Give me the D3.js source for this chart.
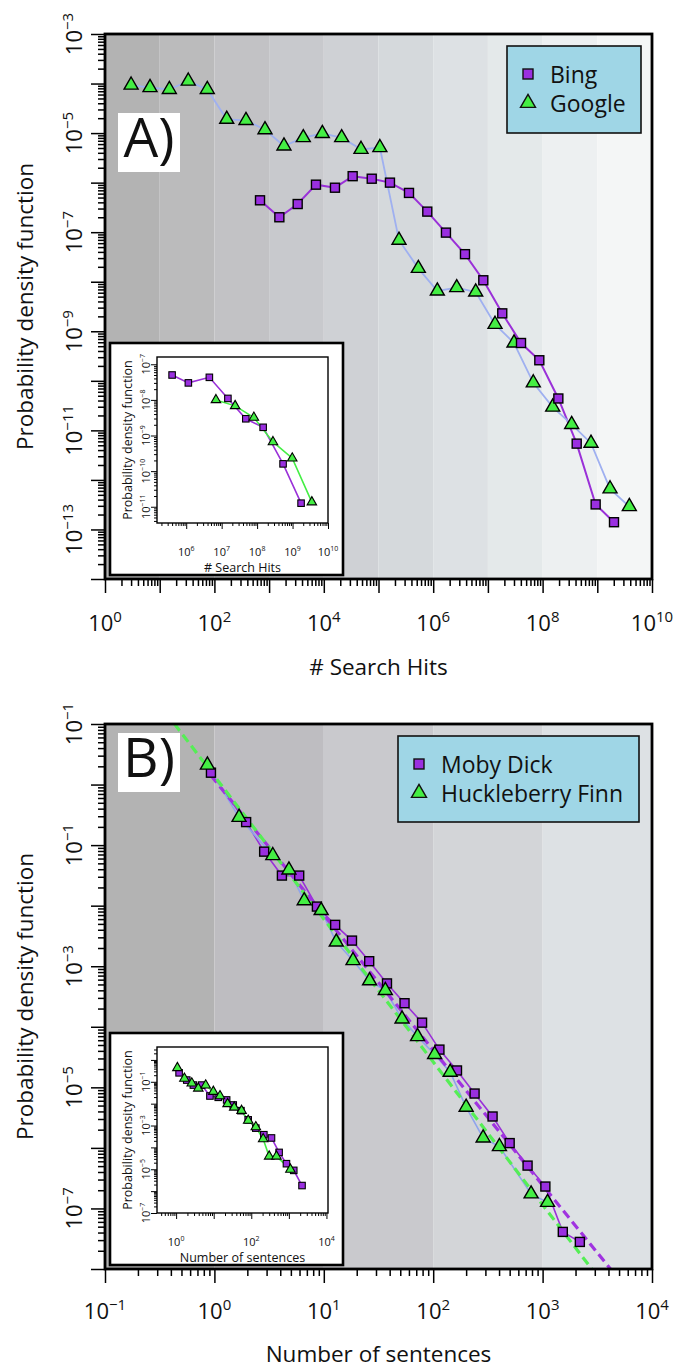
<!DOCTYPE html>
<html>
<head>
<meta charset="utf-8">
<script src="https://cdn.jsdelivr.net/npm/d3@7"></script>
<style>
  body { margin: 0; background: #fff; }
  text { font-family: "Open Sans", sans-serif; fill: #111; }
</style>
</head>
<body>
<svg id="fig" width="675" height="1371"></svg>
<script>
// ---- panel A: search hits ----
const aBingX = [682, 1540, 3330, 7190, 16000, 33700, 75200, 162000, 361000, 780000, 1.71e6, 3.81e6, 8.24e6, 1.83e7, 4.03e7, 8.71e7, 1.94e8, 4.2e8, 9.33e8, 2.02e9]
const aBingY = [4.4e-7, 2.0e-7, 3.7e-7, 9.1e-7, 7.9e-7, 1.35e-6, 1.2e-6, 1.0e-6, 6.2e-7, 2.6e-7, 9.8e-8, 3.6e-8, 1.07e-8, 2.3e-9, 5.8e-10, 2.6e-10, 4.4e-11, 5.4e-12, 3.2e-13, 1.4e-13]
const aGoogleX = [3.0, 6.65, 15.0, 33.3, 74.1, 168, 378, 841, 1870, 4220, 9400, 21200, 47900, 106000, 237000, 535000, 1.19e6, 2.69e6, 5.98e6, 1.35e7, 3.0e7, 6.76e7, 1.53e8, 3.4e8, 7.67e8, 1.71e9, 3.85e9]
const aGoogleY = [9.3e-5, 8.3e-5, 7.6e-5, 1.12e-4, 7.6e-5, 1.9e-5, 1.8e-5, 1.17e-5, 5.5e-6, 8.1e-6, 9.8e-6, 8.1e-6, 4.7e-6, 5.1e-6, 6.9e-8, 1.86e-8, 6.5e-9, 7.6e-9, 6.2e-9, 1.38e-9, 5.8e-10, 9.1e-11, 2.95e-11, 1.32e-11, 5.5e-12, 6.6e-13, 2.9e-13]

// inset A
const aInsetBingX = [4.0e5, 1.15e6, 4.5e6, 1.5e7, 4.8e7, 1.48e8, 5.4e8, 1.74e9]
const aInsetBingY = [5.0e-8, 3.0e-8, 4.3e-8, 1.1e-8, 2.95e-9, 1.7e-9, 1.6e-10, 1.26e-11]
const aInsetGoogleX = [6.9e6, 2.4e7, 8.1e7, 2.8e8, 9.8e8, 3.5e9]
const aInsetGoogleY = [1.0e-8, 6.8e-9, 3.2e-9, 6.6e-10, 2.3e-10, 1.35e-11]

// ---- panel B: sentences ----
const bMobyX = [0.93, 1.95, 2.85, 4.14, 5.96, 8.65, 12.7, 18.1, 26.0, 37.8, 54.7, 79.1, 114, 165, 239, 349, 500, 729, 1060, 1530, 2190]
const bMobyY = [1.57, 0.24, 0.078, 0.0314, 0.0314, 0.00966, 0.00482, 0.00265, 0.00121, 5.2e-4, 2.45e-4, 1.17e-4, 4.2e-5, 1.9e-5, 7.9e-6, 3.3e-6, 1.2e-6, 5.1e-7, 2.3e-7, 4.1e-8, 2.8e-8]
const bHuckX = [0.863, 1.68, 3.42, 4.80, 6.62, 9.46, 13.0, 18.5, 26.2, 36.5, 51.9, 71.9, 103, 143, 200, 286, 403, 785, 1110]
const bHuckY = [2.10, 0.288, 0.0671, 0.0389, 0.0121, 0.00832, 0.00251, 0.00124, 5.75e-4, 3.98e-4, 1.35e-4, 6.9e-5, 3.5e-5, 1.78e-5, 4.7e-6, 1.46e-6, 1.05e-6, 1.74e-7, 1.26e-7]
// power-law fits: log10(y) = b + m*log10(x), drawn from x = from   [Moby, Huck]
const bFitSlope = [-2.231, -2.36]
const bFitIntercept = [0.078, 0.14]
const bFitFrom = [0.93, 0.3]

// inset B
const bInsetMobyX = [1.20, 1.92, 2.88, 4.79, 7.94, 13.2, 22.1, 33.1, 53.0, 82.8, 132, 216, 345, 550, 863, 1350, 2240]
const bInsetMobyY = [0.257, 0.120, 0.0708, 0.0708, 0.0224, 0.0195, 0.0148, 0.0087, 0.00479, 0.00182, 7.6e-4, 3.8e-4, 2.7e-4, 5.9e-5, 1.8e-5, 8.9e-6, 1.8e-6]
const bInsetHuckX = [1.08, 1.66, 2.61, 3.89, 6.12, 9.77, 14.7, 23.4, 35.2, 55.2, 82.8, 132, 207, 299, 468, 1100]
const bInsetHuckY = [0.433, 0.141, 0.0851, 0.0501, 0.0692, 0.0355, 0.0224, 0.00977, 0.00676, 0.00479, 0.0017, 8.5e-4, 2.4e-4, 3.9e-5, 3.9e-5, 9.8e-6]

// tick labels (exponents of 10)
const aXLabels = [0, 2, 4, 6, 8, 10]
const aYLabels = [-3, -5, -7, -9, -11, -13]
const bXLabels = [-1, 0, 1, 2, 3, 4]
const bYLabelPos = [1, -1, -3, -5, -7]
const bYLabelText = ["-1", "-1", "-3", "-5", "-7"]   // top label reads 10^-1 in the original
const aInsetXLabels = [6, 7, 8, 9, 10]
const aInsetYLabels = [-7, -8, -9, -10, -11]
const bInsetXLabels = [0, 2, 4]
const bInsetYLabels = [-1, -3, -5, -7]

const purple = "#9a2fe0", green = "#44ee44"
const bandsA = ["#b3b3b3", "#bbbbbc", "#c2c2c5", "#c8c9cd", "#cfd1d5", "#d5d9dc", "#dde1e4", "#e4e9ea", "#edf0f1", "#f4f6f6"]
const bandsB = ["#b3b3b3", "#bebdc1", "#c9c9cd", "#d3d5d8", "#dde1e4"]

const svg = d3.select("#fig")

function logTickValues(domain) {
  const lo = Math.floor(Math.log10(domain[0]) + 1e-9), hi = Math.ceil(Math.log10(domain[1]) - 1e-9)
  const majors = [], minors = []
  for (let e = lo; e <= hi; e++) {
    const p = Math.pow(10, e)
    if (p >= domain[0] * 0.999 && p <= domain[1] * 1.001) majors.push(p)
    for (let k = 2; k < 10; k++) {
      const v = k * p
      if (v >= domain[0] && v <= domain[1]) minors.push(v)
    }
  }
  return {majors, minors}
}

// "10" with superscript exponent, centred on (x, y)
function powLabel(g, x, y, expText, size, rotate) {
  const t = g.append("text")
    .attr("transform", `translate(${x},${y})` + (rotate ? " rotate(-90)" : ""))
    .attr("text-anchor", "middle")
    .style("font-size", size + "px")
  t.append("tspan").text("10")
  t.append("tspan")
    .attr("dy", -size * 0.42)
    .style("font-size", Math.round(size * 0.66) + "px")
    .text(String(expText).replace("-", "\u2212"))
}

function drawAxes(g, x, y, o) {
  const xt = logTickValues(x.domain()), yt = logTickValues(y.domain())
  const left = x.range()[0], right = x.range()[1], bottom = y.range()[0], top = y.range()[1]

  const tickSets = [[xt.minors, o.minorLen], [xt.majors, o.majorLen]]
  tickSets.forEach(([vals, len]) => {
    g.append("g").attr("transform", `translate(0,${bottom})`)
      .call(d3.axisBottom(x).tickValues(vals).tickSize(len).tickSizeOuter(0).tickFormat(""))
      .call(a => a.select(".domain").remove())
      .selectAll("line").attr("stroke", "#000").attr("stroke-width", o.tickWidth)
  })
  const yTickSets = [[yt.minors, o.minorLen], [yt.majors, o.majorLen]]
  yTickSets.forEach(([vals, len]) => {
    g.append("g").attr("transform", `translate(${left},0)`)
      .call(d3.axisLeft(y).tickValues(vals).tickSize(len).tickSizeOuter(0).tickFormat(""))
      .call(a => a.select(".domain").remove())
      .selectAll("line").attr("stroke", "#000").attr("stroke-width", o.tickWidth)
  })

  g.append("rect")
    .attr("x", left).attr("y", top)
    .attr("width", right - left).attr("height", bottom - top)
    .attr("fill", "none").attr("stroke", "#000").attr("stroke-width", o.frameWidth)

  o.xLabels.forEach(e => powLabel(g, x(Math.pow(10, e)), bottom + o.xLabelDy, e, o.tickFont, false))
  o.yLabelPos.forEach((e, i) => powLabel(g, o.yLabelX, y(Math.pow(10, e)), o.yLabelText[i], o.tickFont, true))

  g.append("text")
    .attr("x", (left + right) / 2).attr("y", bottom + o.xTitleDy)
    .attr("text-anchor", "middle").style("font-size", o.titleFont + "px")
    .text(o.xTitle)
  g.append("text")
    .attr("transform", `translate(${o.yTitleX},${(top + bottom) / 2}) rotate(-90)`)
    .attr("text-anchor", "middle").style("font-size", o.titleFont + "px")
    .text(o.yTitle)
}

function drawMarkers(g, pts, x, y, shape, size, fill, sw) {
  if (shape === "square") {
    g.selectAll(null).data(pts).enter().append("rect")
      .attr("x", d => x(d[0]) - size / 2).attr("y", d => y(d[1]) - size / 2)
      .attr("width", size).attr("height", size)
      .attr("fill", fill).attr("stroke", "#000").attr("stroke-width", sw)
  } else {
    g.selectAll(null).data(pts).enter().append("path")
      .attr("transform", d => `translate(${x(d[0])},${y(d[1])})`)
      .attr("d", d3.symbol(d3.symbolTriangle, size * size * Math.sqrt(3) / 4))
      .attr("fill", fill).attr("stroke", "#000").attr("stroke-width", sw)
  }
}

function drawSeries(g, x, y, series, o) {
  const line = d3.line().x(d => x(d[0])).y(d => y(d[1]))
  series.forEach(s => {
    g.append("path").datum(d3.zip(s.xs, s.ys))
      .attr("fill", "none").attr("stroke", s.lineColor).attr("stroke-width", s.lineWidth)
      .attr("d", line)
  })
  ;(o.fits || []).forEach(f => {
    const pts = [f.from, x.domain()[1]].map(v => [v, Math.pow(10, f.b + f.m * Math.log10(v))])
    g.append("path").datum(pts)
      .attr("fill", "none").attr("stroke", f.color).attr("stroke-width", 3.2)
      .attr("stroke-dasharray", "9,5")
      .attr("d", line)
  })
  series.slice().sort((a, b) => a.order - b.order).forEach(s => {
    drawMarkers(g, d3.zip(s.xs, s.ys), x, y, s.shape, s.shape === "square" ? o.sq : o.tri, s.fill, o.markerStroke)
  })
}

function drawPanel(p) {
  const x = d3.scaleLog().domain(p.xDomain).range([p.left, p.right])
  const y = d3.scaleLog().domain(p.yDomain).range([p.bottom, p.top])
  const g = svg.append("g")

  // decade shading
  const e0 = Math.round(Math.log10(p.xDomain[0])), e1 = Math.round(Math.log10(p.xDomain[1]))
  g.selectAll(".band").data(d3.range(e0, e1)).enter().append("rect")
    .attr("x", d => x(Math.pow(10, d)))
    .attr("width", d => x(Math.pow(10, d + 1)) - x(Math.pow(10, d)))
    .attr("y", p.top).attr("height", p.bottom - p.top)
    .attr("fill", (d, i) => p.bands[i])

  g.append("clipPath").attr("id", "clip" + p.id)
    .append("rect").attr("x", p.left).attr("y", p.top)
    .attr("width", p.right - p.left).attr("height", p.bottom - p.top)
  const plot = g.append("g").attr("clip-path", `url(#clip${p.id})`)
  drawSeries(plot, x, y, p.series, {fits: p.fits, sq: 9, tri: 14, markerStroke: 1.4})

  drawInset(g, p.inset)

  // legend
  const lg = p.legend
  g.append("rect").attr("x", lg.x).attr("y", lg.y).attr("width", lg.w).attr("height", lg.h)
    .attr("fill", "#9fd6e6").attr("stroke", "#111").attr("stroke-width", 1.6)
  lg.items.forEach((it, i) => {
    const cy = lg.y + 28 + i * 29
    const mx = lg.x + 21
    if (it.shape === "square") {
      g.append("rect").attr("x", mx - 5).attr("y", cy - 5).attr("width", 10).attr("height", 10)
        .attr("fill", purple).attr("stroke", "#111").attr("stroke-width", 1.4)
    } else {
      g.append("path").attr("transform", `translate(${mx},${cy})`)
        .attr("d", d3.symbol(d3.symbolTriangle, 15 * 15 * Math.sqrt(3) / 4))
        .attr("fill", green).attr("stroke", "#111").attr("stroke-width", 1.4)
    }
    g.append("text").attr("x", lg.x + 43).attr("y", cy + 9)
      .style("font-size", "23px").text(it.label)
  })

  // panel tag
  g.append("rect").attr("x", p.tag.x).attr("y", p.tag.y).attr("width", 62).attr("height", 59).attr("fill", "#fff")
  g.append("text").attr("x", p.tag.x + 31).attr("y", p.tag.y + 44)
    .attr("text-anchor", "middle").style("font-size", "55px").text(p.tag.text)

  drawAxes(g, x, y, {
    majorLen: 14, minorLen: 7, tickWidth: 1.5, frameWidth: 2.8,
    xLabels: p.xLabels, xLabelDy: p.xLabelDy,
    yLabelPos: p.yLabelPos, yLabelText: p.yLabelText, yLabelX: 82,
    tickFont: 22, titleFont: 22.5,
    xTitle: p.xTitle, xTitleDy: p.xTitleDy,
    yTitle: "Probability density function", yTitleX: 33
  })
}

function drawInset(parent, s) {
  const g = parent.append("g")
  g.append("rect").attr("x", s.box[0]).attr("y", s.box[1]).attr("width", s.box[2]).attr("height", s.box[3])
    .attr("fill", "#fff").attr("stroke", "#000").attr("stroke-width", 2.6)
  const x = d3.scaleLog().domain(s.xDomain).range([157, 328])
  const y = d3.scaleLog().domain(s.yDomain).range([s.bottom, s.bottom - 166])
  drawSeries(g, x, y, s.series, {sq: 6.5, tri: 9.5, markerStroke: 1.1})
  drawAxes(g, x, y, {
    majorLen: 6, minorLen: 3, tickWidth: 1, frameWidth: 1.4,
    xLabels: s.xLabels, xLabelDy: 33,
    yLabelPos: s.yLabels, yLabelText: s.yLabels, yLabelX: 150,
    tickFont: 11, titleFont: 12.5,
    xTitle: s.xTitle, xTitleDy: 49,
    yTitle: "Probability density function", yTitleX: 132
  })
}

drawPanel({
  id: "A", left: 105, right: 652, top: 34, bottom: 579,
  xDomain: [1, 1e10], yDomain: [1e-14, 1e-3], bands: bandsA,
  series: [
    {xs: aBingX, ys: aBingY, shape: "square", fill: purple, lineColor: "#9a30d8", lineWidth: 2, order: 2},
    {xs: aGoogleX, ys: aGoogleY, shape: "triangle", fill: green, lineColor: "#9fb0f0", lineWidth: 1.8, order: 1}
  ],
  xLabels: aXLabels, xLabelDy: 52, yLabelPos: aYLabels, yLabelText: aYLabels,
  xTitle: "# Search Hits", xTitleDy: 96,
  legend: {x: 507, y: 46, w: 134, h: 87, items: [{shape: "square", label: "Bing"}, {shape: "triangle", label: "Google"}]},
  tag: {x: 118, y: 113, text: "A)"},
  inset: {
    box: [110, 343, 233, 232], bottom: 523,
    xDomain: [1.5e5, 1e10], yDomain: [3.5e-12, 1.6e-7],
    series: [
      {xs: aInsetBingX, ys: aInsetBingY, shape: "square", fill: purple, lineColor: "#9a30d8", lineWidth: 1.6, order: 1},
      {xs: aInsetGoogleX, ys: aInsetGoogleY, shape: "triangle", fill: green, lineColor: green, lineWidth: 1.6, order: 2}
    ],
    xLabels: aInsetXLabels, yLabels: aInsetYLabels, xTitle: "# Search Hits"
  }
})

drawPanel({
  id: "B", left: 105, right: 652, top: 724, bottom: 1269,
  xDomain: [0.1, 1e4], yDomain: [1e-8, 10], bands: bandsB,
  series: [
    {xs: bMobyX, ys: bMobyY, shape: "square", fill: purple, lineColor: "#9a30d8", lineWidth: 1.6, order: 1},
    {xs: bHuckX, ys: bHuckY, shape: "triangle", fill: green, lineColor: "#8fa4ec", lineWidth: 1.6, order: 2}
  ],
  fits: [
    {m: bFitSlope[0], b: bFitIntercept[0], from: bFitFrom[0], color: "#a033e0"},
    {m: bFitSlope[1], b: bFitIntercept[1], from: bFitFrom[1], color: "#55ee55"}
  ],
  xLabels: bXLabels, xLabelDy: 50, yLabelPos: bYLabelPos, yLabelText: bYLabelText,
  xTitle: "Number of sentences", xTitleDy: 93,
  legend: {x: 398, y: 736, w: 241, h: 86, items: [{shape: "square", label: "Moby Dick"}, {shape: "triangle", label: "Huckleberry Finn"}]},
  tag: {x: 118, y: 733, text: "B)"},
  inset: {
    box: [110, 1033, 233, 232], bottom: 1213,
    xDomain: [0.31, 1.1e4], yDomain: [1e-7, 3.9],
    series: [
      {xs: bInsetMobyX, ys: bInsetMobyY, shape: "square", fill: purple, lineColor: "#9a30d8", lineWidth: 1.6, order: 1},
      {xs: bInsetHuckX, ys: bInsetHuckY, shape: "triangle", fill: green, lineColor: green, lineWidth: 1.6, order: 2}
    ],
    xLabels: bInsetXLabels, yLabels: bInsetYLabels, xTitle: "Number of sentences"
  }
})
</script>
</body>
</html>
